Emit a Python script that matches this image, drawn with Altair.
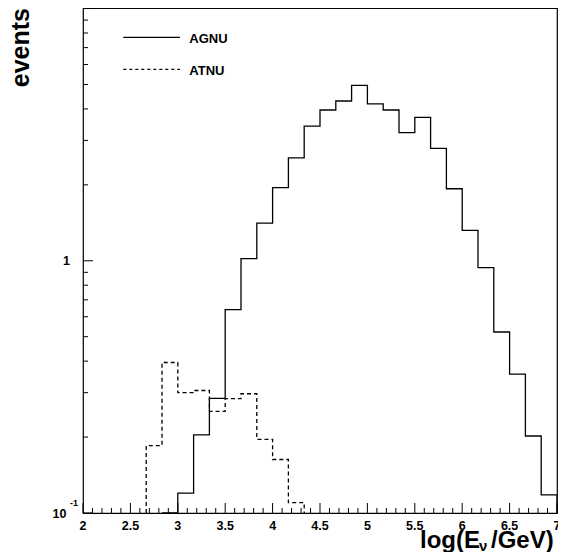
import altair as alt
import pandas as pd
import numpy as np

# ---- data ----
X_LO = 2.0
BIN_W = 1.0 / 6.0

agnu_first_bin = 5
agnu_vals = [0.1, 0.12, 0.204, 0.285, 0.64, 1.02, 1.41, 1.95, 2.56, 3.42,
             3.96, 4.30, 4.96, 4.19, 3.96, 3.22, 3.70, 2.79, 1.93, 1.32,
             0.94, 0.522, 0.355, 0.202, 0.118]

atnu_first_bin = 4
atnu_vals = [0.185, 0.395, 0.30, 0.306, 0.253, 0.284, 0.297, 0.196, 0.163, 0.11]

x_label_vals = [2, 2.5, 3, 3.5, 4, 4.5, 5, 5.5, 6, 6.5, 7]
x_label_text = ["2", "2.5", "3", "3.5", "4", "4.5", "5", "5.5", "6", "6.5", "7"]

y_major_ticks = [0.1, 1, 10]
y_minor_ticks = [0.2, 0.3, 0.4, 0.5, 0.6, 0.7, 0.8, 0.9, 2, 3, 4, 5, 6, 7, 8, 9]

YMIN, YMAX = 0.1, 10.05
W, H = 474, 505
FONT = "Liberation Sans"


def step_df(first_bin, vals):
    rows = [{"x": X_LO + first_bin * BIN_W, "y": YMIN, "o": 0}]
    for i, v in enumerate(vals):
        rows.append({"x": X_LO + (first_bin + i) * BIN_W, "y": v, "o": i + 1})
    rows.append({"x": X_LO + (first_bin + len(vals)) * BIN_W, "y": YMIN, "o": len(vals) + 1})
    return pd.DataFrame(rows)


xs = alt.Scale(domain=[2, 7], nice=False, zero=False)
ys = alt.Scale(type="log", domain=[YMIN, YMAX], nice=False, zero=False)

agnu = alt.Chart(step_df(agnu_first_bin, agnu_vals)).mark_line(
    interpolate="step-after", color="black", strokeWidth=1.3, clip=True
).encode(
    x=alt.X("x:Q", scale=xs, axis=None),
    y=alt.Y("y:Q", scale=ys, axis=None),
    order=alt.Order("o:Q"),
)

atnu = alt.Chart(step_df(atnu_first_bin, atnu_vals)).mark_line(
    interpolate="step-after", color="black", strokeWidth=1.3, strokeDash=[4, 3], clip=True
).encode(
    x=alt.X("x:Q", scale=xs, axis=None),
    y=alt.Y("y:Q", scale=ys, axis=None),
    order=alt.Order("o:Q"),
)

# ---- ticks (inward, ROOT style) ----
xt = np.round(np.arange(2.0, 7.0001, 0.1), 1)
x_major = pd.DataFrame({"v": [v for v in xt if abs(v * 2 - round(v * 2)) < 1e-6]})
x_minor = pd.DataFrame({"v": [v for v in xt if abs(v * 2 - round(v * 2)) >= 1e-6]})

xmaj = alt.Chart(x_major).mark_rule(color="black", strokeWidth=1).encode(
    x=alt.X("v:Q", scale=xs, axis=None), y=alt.value(H), y2=alt.value(H - 10))
xmin = alt.Chart(x_minor).mark_rule(color="black", strokeWidth=1).encode(
    x=alt.X("v:Q", scale=xs, axis=None), y=alt.value(H), y2=alt.value(H - 5))
ymaj = alt.Chart(pd.DataFrame({"v": y_major_ticks})).mark_rule(color="black", strokeWidth=1).encode(
    y=alt.Y("v:Q", scale=ys, axis=None), x=alt.value(0), x2=alt.value(10))
ymin = alt.Chart(pd.DataFrame({"v": y_minor_ticks})).mark_rule(color="black", strokeWidth=1).encode(
    y=alt.Y("v:Q", scale=ys, axis=None), x=alt.value(0), x2=alt.value(5))

# ---- tick labels ----
xlab = alt.Chart(pd.DataFrame({"v": x_label_vals, "t": x_label_text})).mark_text(
    font=FONT, fontWeight="bold", fontSize=12.5, align="center", baseline="alphabetic"
).encode(x=alt.X("v:Q", scale=xs, axis=None), y=alt.value(H + 16.5), text="t:N")

ylab1 = alt.Chart(pd.DataFrame({"v": [1], "t": ["1"]})).mark_text(
    font=FONT, fontWeight="bold", fontSize=12.5, align="right", baseline="middle"
).encode(y=alt.Y("v:Q", scale=ys, axis=None), x=alt.value(-13), text="t:N")

ylab10 = alt.Chart(pd.DataFrame({"v": [0.1], "t": ["10"]})).mark_text(
    font=FONT, fontWeight="bold", fontSize=12.5, align="right", baseline="alphabetic", dy=4.5
).encode(y=alt.Y("v:Q", scale=ys, axis=None), x=alt.value(-16.5), text="t:N")

ylabexp = alt.Chart(pd.DataFrame({"v": [0.1], "t": ["-1"]})).mark_text(
    font=FONT, fontWeight="bold", fontSize=9, align="left", baseline="alphabetic", dy=-7.5
).encode(y=alt.Y("v:Q", scale=ys, axis=None), x=alt.value(-13), text="t:N")

# ---- titles ----
ytitle = alt.Chart(pd.DataFrame({"t": ["events"]})).mark_text(
    font=FONT, fontWeight="bold", fontSize=25, angle=270, align="right", baseline="middle"
).encode(x=alt.value(-62), y=alt.value(0), text="t:N")

xt1 = alt.Chart(pd.DataFrame({"t": ["log(E"]})).mark_text(
    font=FONT, fontWeight="bold", fontSize=24, align="left", baseline="alphabetic"
).encode(x=alt.value(337), y=alt.value(540), text="t:N")
xt2 = alt.Chart(pd.DataFrame({"t": ["\u03bd"]})).mark_text(
    font=FONT, fontWeight="bold", fontSize=15, align="left", baseline="alphabetic"
).encode(x=alt.value(396), y=alt.value(543), text="t:N")
xt3 = alt.Chart(pd.DataFrame({"t": ["/GeV)"]})).mark_text(
    font=FONT, fontWeight="bold", fontSize=24, align="left", baseline="alphabetic"
).encode(x=alt.value(408), y=alt.value(540), text="t:N")

# ---- legend ----
leg_solid = alt.Chart(pd.DataFrame({"a": [0]})).mark_rule(color="black", strokeWidth=1.2).encode(
    x=alt.value(40.3), x2=alt.value(97), y=alt.value(29.3))
leg_dash = alt.Chart(pd.DataFrame({"a": [0]})).mark_rule(color="black", strokeWidth=1.2, strokeDash=[3, 3]).encode(
    x=alt.value(40.3), x2=alt.value(97), y=alt.value(61.3))
leg_t1 = alt.Chart(pd.DataFrame({"t": ["AGNU"]})).mark_text(
    font=FONT, fontWeight="bold", fontSize=13, align="left", baseline="alphabetic"
).encode(x=alt.value(106.3), y=alt.value(34.7), text="t:N")
leg_t2 = alt.Chart(pd.DataFrame({"t": ["ATNU"]})).mark_text(
    font=FONT, fontWeight="bold", fontSize=13, align="left", baseline="alphabetic"
).encode(x=alt.value(106.3), y=alt.value(66.7), text="t:N")

chart = alt.layer(
    xmaj, xmin, ymaj, ymin, agnu, atnu, xlab, ylab1, ylab10, ylabexp,
    ytitle, xt1, xt2, xt3, leg_solid, leg_dash, leg_t1, leg_t2
).properties(
    width=W, height=H,
    autosize=alt.AutoSizeParams(type="none"),
    padding={"left": 75, "top": 0, "right": 1, "bottom": 39},
).configure_view(stroke="black", strokeWidth=1.2)

chart.save("out.html", embed_options={"renderer": "svg", "actions": False})
